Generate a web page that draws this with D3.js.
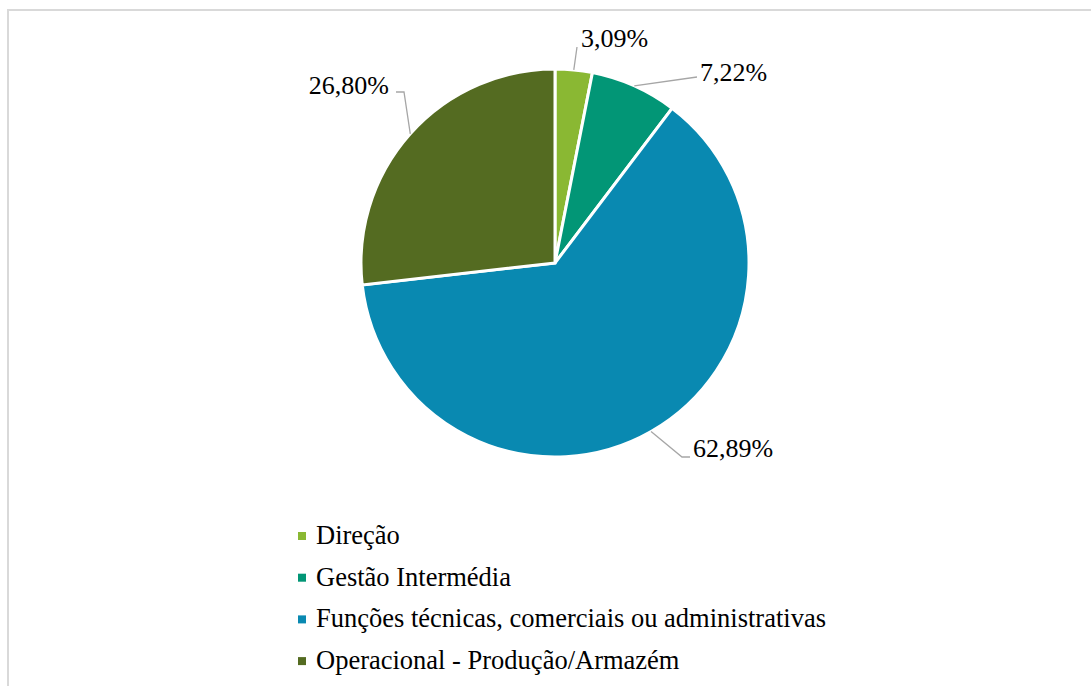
<!DOCTYPE html>
<html>
<head>
<meta charset="utf-8">
<script src="https://cdn.jsdelivr.net/npm/d3@7"></script>
<style>
  html, body { margin: 0; padding: 0; background: #ffffff; }
  svg { display: block; }
</style>
</head>
<body>
<svg id="chart" width="1091" height="686"></svg>
<script>
// Distribution by job category (percent)
const categories = [
  "Direção",
  "Gestão Intermédia",
  "Funções técnicas, comerciais ou administrativas",
  "Operacional - Produção/Armazém"
];
const shares = [3.09, 7.22, 62.89, 26.80];
const valueLabels = ["3,09%", "7,22%", "62,89%", "26,80%"];
const colors = ["#8ab833", "#029676", "#0989b1", "#546b21"];

const svg = d3.select("#chart");
const W = 1091, H = 686;
const serif = "'Liberation Serif', 'Times New Roman', serif";

// chart area frame
svg.append("rect")
  .attr("x", 8).attr("y", 10)
  .attr("width", W + 20).attr("height", H + 20)
  .attr("fill", "#ffffff")
  .attr("stroke", "#d9d9d9")
  .attr("stroke-width", 2);

const cx = 555, cy = 263, R = 194;

const pie = d3.pie().sort(null).value(d => d)(shares);
const arc = d3.arc().innerRadius(0).outerRadius(R);

const g = svg.append("g").attr("transform", `translate(${cx},${cy})`);

g.selectAll("path.slice")
  .data(pie)
  .join("path")
  .attr("class", "slice")
  .attr("d", arc)
  .attr("fill", (d, i) => colors[i])
  .attr("stroke", "#ffffff")
  .attr("stroke-width", 3)
  .attr("stroke-linejoin", "miter");

// label layout: leader bends and text anchor positions (relative to pie centre)
const labelLayout = [
  { bend: null,            text: [26, -216], anchor: "start" },
  { bend: null,            text: [145, -182], anchor: "start" },
  { bend: [127, 194],      text: [138, 194], anchor: "start" },
  { bend: [-151, -171],    text: [-166, -169], anchor: "end" }
];
const leaderEnds = [
  [22, -216],
  [142, -186],
  [135, 194],
  [-159, -171]
];

pie.forEach((d, i) => {
  const mid = (d.startAngle + d.endAngle) / 2;
  const sx = R * Math.sin(mid), sy = -R * Math.cos(mid);
  const pts = [[sx, sy]];
  if (labelLayout[i].bend) pts.push(labelLayout[i].bend);
  pts.push(leaderEnds[i]);
  g.append("path")
    .attr("d", d3.line()(pts))
    .attr("fill", "none")
    .attr("stroke", "#a6a6a6")
    .attr("stroke-width", 1.3);
  g.append("text")
    .attr("x", labelLayout[i].text[0])
    .attr("y", labelLayout[i].text[1])
    .attr("text-anchor", labelLayout[i].anchor)
    .attr("font-family", serif)
    .attr("font-size", 26)
    .attr("fill", "#000000")
    .text(valueLabels[i]);
});

// legend
const legend = svg.append("g").attr("transform", "translate(298,544)");
const rowStep = 41.7;
categories.forEach((c, i) => {
  const row = legend.append("g").attr("transform", `translate(0,${i * rowStep})`);
  row.append("rect")
    .attr("x", 0).attr("y", -12)
    .attr("width", 8).attr("height", 8)
    .attr("fill", colors[i]);
  row.append("text")
    .attr("x", 18).attr("y", 0)
    .attr("font-family", serif)
    .attr("font-size", 26.5)
    .attr("fill", "#000000")
    .text(c);
});
</script>
</body>
</html>
